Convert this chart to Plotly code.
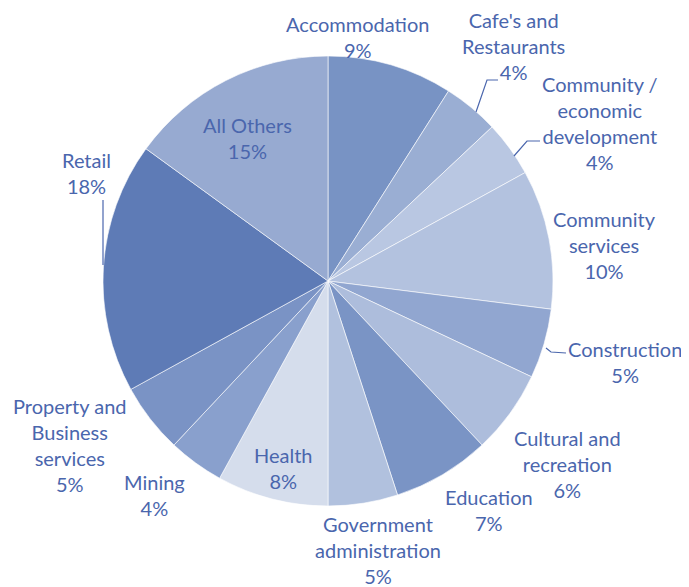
import plotly.graph_objects as go

# industry share data
industries = ["Accommodation", "Cafe's and Restaurants", "Community / economic development",
              "Community services", "Construction", "Cultural and recreation", "Education",
              "Government administration", "Health", "Mining", "Property and Business services",
              "Retail", "All Others"]
shares = [9, 4, 4, 10, 5, 6, 7, 5, 8, 4, 5, 18, 15]
label_text = ["Accommodation", "Cafe's and<br>Restaurants", "Community /<br>economic<br>development",
              "Community<br>services", "Construction", "Cultural and<br>recreation", "Education",
              "Government<br>administration", "Health", "Mining", "Property and<br>Business<br>services",
              "Retail", "All Others"]
colors = ["#7893c4", "#9aaed3", "#b9c7e2", "#b3c2df", "#91a6d0", "#adbddc", "#7a94c5",
          "#b1c1de", "#d5ddec", "#89a0cd", "#7a93c5", "#5e7bb6", "#97aad1"]

# page has an 8px body margin, so the figure is drawn a bit smaller and offset
OFF = 8
W, H = 689 - OFF, 587 - OFF
TXT = "#4a66ad"
FONT = "Lato"


def px2paper(x, y):
    return (x - OFF) / W, 1 - (y - OFF) / H


# label centres in screen pixels (x, y)
label_pos = [(357, 37), (513, 46), (600, 123), (604, 245), (625, 362), (567, 464),
             (489, 510), (378, 550), (283, 468), (154, 495), (70, 445), (86, 173), (247, 138)]

# pie centre (328, 281), radius 225 in screen pixels
cx, cy, r = 328, 281, 225
x0, y1 = px2paper(cx - r, cy - r)
x1, y0 = px2paper(cx + r, cy + r)
fig = go.Figure(go.Pie(
    labels=industries, values=shares, sort=False, direction="clockwise",
    marker=dict(colors=colors, line=dict(color="white", width=0.6)),
    textinfo="none", hoverinfo="label+percent", showlegend=False,
    domain=dict(x=[x0, x1], y=[y0, y1]),
))

total = sum(shares)
for txt, v, (px, py) in zip(label_text, shares, label_pos):
    ax, ay = px2paper(px, py)
    fig.add_annotation(x=ax, y=ay, xref="paper", yref="paper", xanchor="center", yanchor="middle",
                       text=f"{txt}<br>{round(100 * v / total)}%", showarrow=False,
                       font=dict(family=FONT, size=20, color=TXT), align="center")


# leader lines
def pline(pts):
    d = "M " + " L ".join("{},{}".format(*px2paper(x, y)) for x, y in pts)
    fig.add_shape(type="path", path=d, xref="paper", yref="paper",
                  line=dict(color=TXT, width=1.2))


pline([(476, 112), (487, 80), (498, 80)])
pline([(514, 156), (527, 141), (540, 141)])
pline([(546, 348), (551, 352), (566, 353)])
pline([(103, 200), (103, 265)])

fig.update_layout(width=W, height=H, margin=dict(l=0, r=0, t=0, b=0),
                  paper_bgcolor="white", plot_bgcolor="white")
fig.write_html("out.html")
